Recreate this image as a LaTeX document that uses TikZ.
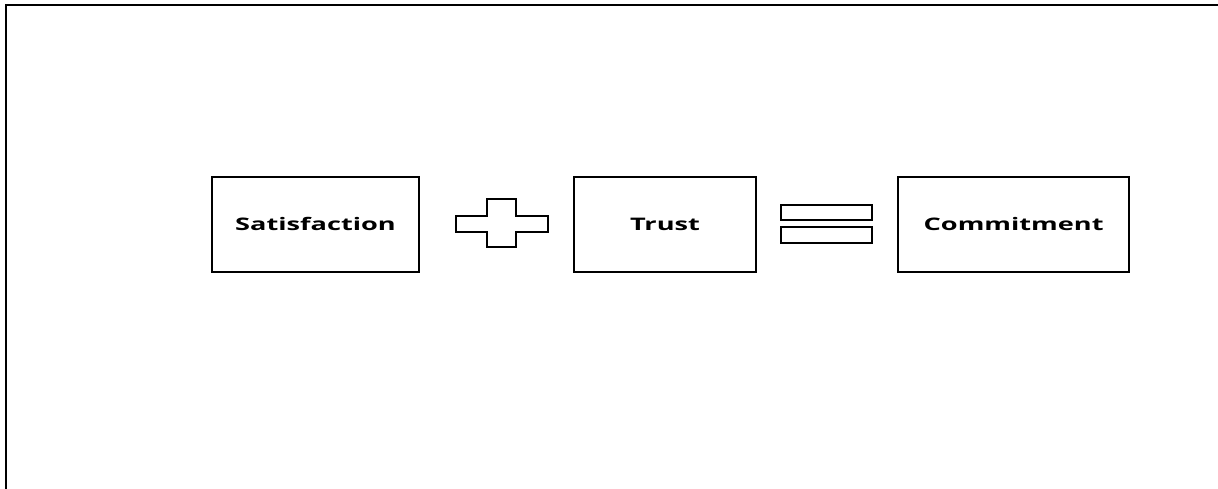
\documentclass[tikz,border=0pt]{standalone}
\usepackage{fontspec}
\setsansfont{Open Sans}
\begin{document}
\begin{tikzpicture}[x=1pt,y=-1pt,
  termbox/.style={draw=black,line width=2.2pt,minimum width=#1,minimum height=95pt,inner sep=0pt},
  termtext/.style={font=\sffamily\bfseries\fontsize{17.3}{20}\selectfont},
  glyph/.style={draw=black,line width=2.2pt,fill=white}]
  \useasboundingbox (0,0) rectangle (1218,488);
  % frame on the top and left edges
  \coordinate (ftr) at (1219,4.8);
  \coordinate (fbl) at (5.8,489);
  \draw[line width=2.2pt] (fbl) |- (ftr);
  % three terms of the equation
  \node[termbox=207pt] (sat) at (315.5,224.2) {};
  \node[termtext] at (sat.center) {\scalebox{1.57}[1]{Satisfaction}};
  \node[termbox=182pt] (trust) at (665,224.2) {};
  \node[termtext] at (trust.center) {\scalebox{1.57}[1]{Trust}};
  \node[termbox=231pt] (com) at (1013.6,224.2) {};
  \node[termtext] at (com.center) {\scalebox{1.57}[1]{Commitment}};
  % plus sign
  \draw[glyph] (456,215.7) -- (487.3,215.7) -- (487.3,199.3) -- (516,199.3) -- (516,215.7)
     -- (547.7,215.7) -- (547.7,231.7) -- (516,231.7) -- (516,247.3) -- (487.3,247.3)
     -- (487.3,231.7) -- (456,231.7) -- cycle;
  % equals sign
  \draw[glyph] (780.7,205) rectangle (871.7,220);
  \draw[glyph] (780.7,227.3) rectangle (871.7,242.7);
\end{tikzpicture}
\end{document}
